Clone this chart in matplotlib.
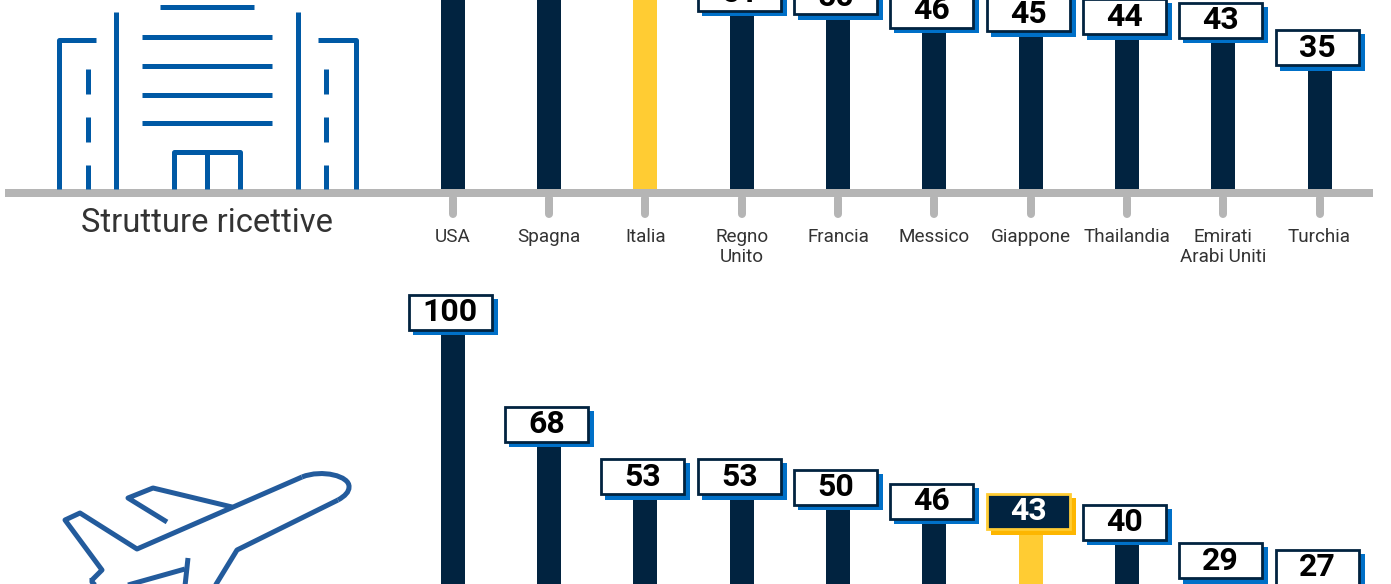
import matplotlib
matplotlib.use('Agg')
import matplotlib.pyplot as plt
from matplotlib.patches import PathPatch, Rectangle
from matplotlib.path import Path

plt.rcParams['font.family'] = ['Roboto', 'DejaVu Sans']

# Pannello superiore (i primi tre valori sono tagliati nell'immagine: stimati)
top_categories = ['USA', 'Spagna', 'Italia', 'Regno\nUnito', 'Francia', 'Messico',
                  'Giappone', 'Thailandia', 'Emirati\nArabi Uniti', 'Turchia']
top_values = [100, 80, 62, 51, 50, 46, 45, 44, 43, 35]
top_highlight = 2

# Pannello inferiore
bottom_values = [100, 68, 53, 53, 50, 46, 43, 40, 29, 27]
bottom_highlight = 6

NAVY = '#012340'
GOLD = '#FFCC33'
GOLD_DARK = '#FDB600'
BLUE = '#0070C8'
GREY = '#B5B5B5'
TEXT = '#333333'
ICON = '#0059A5'
PLANE = '#235B9C'

W, H = 1391, 584
STEP = 96.3
X0 = 452.8


def make_axes(fig, baseline, px_per_unit):
    ax = fig.add_axes([0, 0, 1, 1], facecolor='none')
    ax.set_xlim(-X0 / STEP, (W - X0) / STEP)
    ax.set_ylim((baseline - H) / px_per_unit, baseline / px_per_unit)
    for side in ['top', 'right', 'left', 'bottom']:
        ax.spines[side].set_visible(False)
    ax.set_yticks([])
    ax.set_xticks([])
    return ax


def draw_bars(ax, values, highlight):
    colors = [GOLD if i == highlight else NAVY for i in range(len(values))]
    ax.bar(range(len(values)), values, width=24 / STEP, color=colors, linewidth=0)


def draw_labels(ax, pax, values, highlight):
    for i, v in enumerate(values):
        x, y = pax.transData.inverted().transform(ax.transData.transform((i, v)))
        left = x - 44
        bottom = y - 5
        # la targhetta sta fuori dall'immagine
        if bottom < 0:
            continue
        hl = i == highlight
        pax.add_patch(Rectangle((left + 4, bottom - 31.5), 85, 36.5, linewidth=0,
                                facecolor=GOLD_DARK if hl else BLUE, zorder=3))
        pax.add_patch(Rectangle((left, bottom - 35.5), 83, 35, linewidth=2.0,
                                edgecolor=GOLD if hl else NAVY,
                                facecolor=NAVY if hl else 'white', zorder=4))
        pax.text(left + 41.5, bottom - 18, str(v), ha='center', va='center',
                 fontsize=23, fontweight='bold', color='white' if hl else 'black',
                 zorder=5)


def draw_building(pax):
    lw = 3.6
    kw = dict(color=ICON, lw=lw, solid_joinstyle='round', solid_capstyle='butt', zorder=2)
    pax.plot([59, 59, 96], [189, 40, 40], **kw)
    pax.plot([356, 356, 318], [189, 40, 40], **kw)
    pax.plot([116, 116], [12, 189], **kw)
    pax.plot([298, 298], [12, 189], **kw)
    for x in [88, 326]:
        for y0, y1 in [(69, 94), (117, 142), (165, 189)]:
            pax.plot([x, x], [y0, y1], **kw)
    for y in [37, 66, 95, 123]:
        pax.plot([142, 272], [y, y], **kw)
    pax.plot([160, 254], [7, 7], **kw)
    pax.plot([174, 174, 240, 240], [189, 152, 152, 189], **kw)
    pax.plot([207, 207], [152, 189], **kw)


def draw_plane(pax):
    kw = dict(color=PLANE, lw=3.6, solid_joinstyle='round', solid_capstyle='butt', zorder=2)
    pax.plot([92, 102, 65, 80, 137, 302], [580, 570, 520, 513, 549, 477], **kw)
    pax.plot([338, 237, 215], [500, 550, 586], **kw)
    # muso arrotondato
    nose = Path([(302, 477), (322, 469), (350, 476), (349, 487), (349, 492), (345, 496), (338, 500)],
                [Path.MOVETO, Path.CURVE4, Path.CURVE4, Path.CURVE4, Path.CURVE4, Path.CURVE4, Path.CURVE4])
    pax.add_patch(PathPatch(nose, fill=False, edgecolor=PLANE, lw=3.6, zorder=2))
    pax.plot([100, 92, 92], [590, 582, 578], **kw)
    pax.plot([232, 153, 128, 167], [507, 488, 498, 522], **kw)
    pax.plot([128, 185], [585, 569], **kw)
    pax.plot([188, 185], [558, 586], **kw)


def create_chart(output_path='out.png'):
    fig = plt.figure(figsize=(W / 100, H / 100), dpi=100, facecolor='white')

    ax_top = make_axes(fig, 190, 3.41)
    ax_bottom = make_axes(fig, 685, 3.5)

    draw_bars(ax_top, top_values, top_highlight)
    draw_bars(ax_bottom, bottom_values, bottom_highlight)

    # asse grigio e tacche del pannello superiore
    spine = ax_top.spines['bottom']
    spine.set_visible(True)
    spine.set_position(('data', -3 / 3.41))
    spine.set_bounds((5 - X0) / STEP, (1373 - X0) / STEP)
    spine.set_linewidth(5.76)
    spine.set_color(GREY)
    spine.set_capstyle('butt')
    ax_top.set_xticks(range(len(top_categories)))
    ax_top.set_xticklabels(top_categories, fontsize=13.6, color=TEXT, linespacing=1.13)
    ax_top.tick_params(axis='x', length=0, pad=25)
    ax_top.vlines(range(len(top_categories)), -24 / 3.41, -8 / 3.41, color=GREY,
                  linewidth=5.76, capstyle='round')

    # livello in coordinate pixel per icone e targhette
    pax = fig.add_axes([0, 0, 1, 1], facecolor='none')
    pax.set_xlim(0, W)
    pax.set_ylim(H, 0)
    pax.axis('off')

    draw_building(pax)
    draw_plane(pax)
    pax.text(207, 222.5, 'Strutture ricettive', ha='center', va='center',
             fontsize=23.6, color=TEXT)

    draw_labels(ax_top, pax, top_values, top_highlight)
    draw_labels(ax_bottom, pax, bottom_values, bottom_highlight)

    fig.savefig(output_path, dpi=100)
    plt.close(fig)


if __name__ == '__main__':
    create_chart()
